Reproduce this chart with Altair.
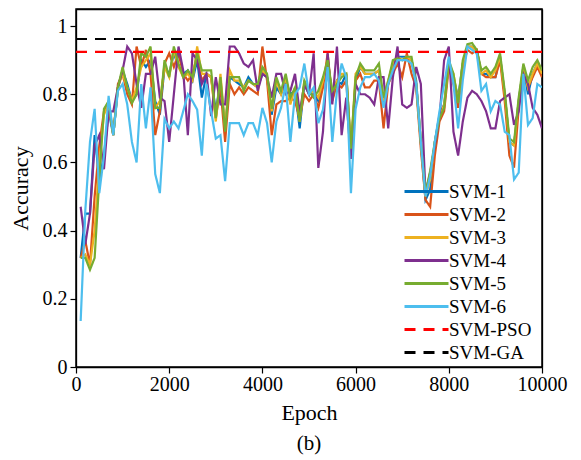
import altair as alt
import pandas as pd

epochs = list(range(100, 10001, 100))

svm1 = [0.32, 0.45, 0.45, 0.68, 0.55, 0.62, 0.75, 0.68, 0.82, 0.87,
        0.83, 0.78, 0.80, 0.90, 0.88, 0.90, 0.78, 0.74, 0.88, 0.86,
        0.92, 0.88, 0.86, 0.87, 0.84, 0.90, 0.79, 0.86, 0.85, 0.75,
        0.84, 0.70, 0.85, 0.84, 0.83, 0.82, 0.85, 0.83, 0.82, 0.86,
        0.85, 0.74, 0.82, 0.80, 0.84, 0.80, 0.81, 0.70, 0.83, 0.80,
        0.80, 0.78, 0.84, 0.89, 0.80, 0.84, 0.83, 0.86, 0.63, 0.84,
        0.88, 0.86, 0.86, 0.86, 0.87, 0.77, 0.83, 0.89, 0.91, 0.91,
        0.91, 0.90, 0.84, 0.66, 0.49, 0.52, 0.66, 0.74, 0.77, 0.89,
        0.85, 0.79, 0.89, 0.94, 0.94, 0.93, 0.86, 0.86, 0.85, 0.85,
        0.91, 0.80, 0.66, 0.65, 0.78, 0.88, 0.80, 0.86, 0.89, 0.86]

svm2 = [0.32, 0.37, 0.30, 0.50, 0.65, 0.75, 0.77, 0.68, 0.83, 0.86,
        0.80, 0.77, 0.94, 0.88, 0.93, 0.86, 0.68, 0.75, 0.89, 0.92,
        0.88, 0.92, 0.86, 0.84, 0.86, 0.91, 0.84, 0.86, 0.85, 0.73,
        0.82, 0.66, 0.83, 0.80, 0.82, 0.80, 0.82, 0.81, 0.80, 0.94,
        0.84, 0.68, 0.77, 0.78, 0.78, 0.79, 0.78, 0.73, 0.80, 0.78,
        0.80, 0.76, 0.82, 0.92, 0.78, 0.83, 0.82, 0.84, 0.62, 0.84,
        0.86, 0.82, 0.82, 0.84, 0.84, 0.70, 0.83, 0.86, 0.89, 0.85,
        0.92, 0.86, 0.82, 0.64, 0.49, 0.47, 0.62, 0.72, 0.75, 0.88,
        0.83, 0.76, 0.88, 0.93, 0.92, 0.93, 0.86, 0.85, 0.85, 0.85,
        0.90, 0.78, 0.62, 0.585, 0.76, 0.87, 0.82, 0.85, 0.88, 0.85]

svm3 = [0.32, 0.33, 0.30, 0.40, 0.60, 0.74, 0.77, 0.68, 0.82, 0.86,
        0.82, 0.78, 0.82, 0.88, 0.90, 0.92, 0.76, 0.78, 0.88, 0.85,
        0.93, 0.88, 0.85, 0.86, 0.84, 0.94, 0.86, 0.86, 0.85, 0.72,
        0.86, 0.70, 0.87, 0.84, 0.84, 0.82, 0.84, 0.83, 0.82, 0.87,
        0.85, 0.75, 0.84, 0.80, 0.85, 0.77, 0.82, 0.72, 0.84, 0.80,
        0.81, 0.79, 0.84, 0.90, 0.80, 0.84, 0.86, 0.86, 0.64, 0.86,
        0.88, 0.86, 0.86, 0.86, 0.87, 0.78, 0.84, 0.89, 0.91, 0.90,
        0.91, 0.90, 0.83, 0.66, 0.50, 0.55, 0.66, 0.73, 0.77, 0.89,
        0.86, 0.78, 0.89, 0.94, 0.94, 0.92, 0.86, 0.87, 0.85, 0.87,
        0.91, 0.80, 0.66, 0.65, 0.78, 0.88, 0.82, 0.86, 0.89, 0.86]

svm4 = [0.47, 0.36, 0.45, 0.65, 0.68, 0.58, 0.75, 0.75, 0.82, 0.87,
        0.94, 0.92, 0.83, 0.76, 0.86, 0.86, 0.91, 0.79, 0.78, 0.66,
        0.80, 0.94, 0.87, 0.68, 0.92, 0.90, 0.83, 0.86, 0.736, 0.85,
        0.77, 0.77, 0.94, 0.94, 0.92, 0.89, 0.88, 0.90, 0.81, 0.86,
        0.85, 0.79, 0.86, 0.86, 0.80, 0.81, 0.86, 0.745, 0.83, 0.80,
        0.92, 0.584, 0.69, 0.92, 0.77, 0.94, 0.68, 0.79, 0.61, 0.83,
        0.80, 0.80, 0.79, 0.77, 0.85, 0.85, 0.70, 0.85, 0.94, 0.77,
        0.76, 0.77, 0.88, 0.83, 0.51, 0.57, 0.65, 0.73, 0.90, 0.94,
        0.69, 0.62, 0.72, 0.79, 0.81, 0.80, 0.78, 0.75, 0.70, 0.70,
        0.78, 0.79, 0.80, 0.71, 0.75, 0.86, 0.83, 0.76, 0.74, 0.70]

svm5 = [0.32, 0.32, 0.285, 0.32, 0.55, 0.757, 0.78, 0.68, 0.82, 0.88,
        0.82, 0.774, 0.80, 0.92, 0.91, 0.94, 0.76, 0.76, 0.90, 0.85,
        0.94, 0.89, 0.85, 0.87, 0.85, 0.92, 0.87, 0.87, 0.87, 0.73,
        0.85, 0.69, 0.85, 0.85, 0.85, 0.81, 0.84, 0.83, 0.83, 0.88,
        0.86, 0.757, 0.85, 0.81, 0.86, 0.79, 0.82, 0.72, 0.84, 0.81,
        0.79, 0.81, 0.85, 0.90, 0.81, 0.83, 0.85, 0.86, 0.64, 0.85,
        0.89, 0.87, 0.87, 0.87, 0.89, 0.79, 0.84, 0.90, 0.905, 0.90,
        0.91, 0.91, 0.83, 0.66, 0.51, 0.575, 0.66, 0.73, 0.76, 0.90,
        0.86, 0.774, 0.90, 0.947, 0.95, 0.93, 0.87, 0.88, 0.86, 0.88,
        0.92, 0.81, 0.67, 0.66, 0.79, 0.89, 0.84, 0.88, 0.90, 0.87]

svm6 = [0.135, 0.46, 0.66, 0.757, 0.51, 0.62, 0.795, 0.68, 0.81, 0.83,
        0.77, 0.66, 0.60, 0.83, 0.70, 0.82, 0.566, 0.51, 0.727, 0.70,
        0.72, 0.70, 0.75, 0.80, 0.78, 0.755, 0.62, 0.83, 0.75, 0.67,
        0.68, 0.545, 0.715, 0.715, 0.715, 0.68, 0.715, 0.715, 0.68, 0.76,
        0.715, 0.60, 0.72, 0.76, 0.83, 0.66, 0.80, 0.82, 0.89, 0.80,
        0.82, 0.715, 0.755, 0.88, 0.66, 0.81, 0.89, 0.85, 0.51, 0.757,
        0.82, 0.85, 0.85, 0.86, 0.84, 0.76, 0.83, 0.87, 0.90, 0.90,
        0.90, 0.89, 0.83, 0.66, 0.50, 0.56, 0.66, 0.75, 0.83, 0.91,
        0.83, 0.70, 0.84, 0.94, 0.93, 0.92, 0.81, 0.83, 0.75, 0.78,
        0.77, 0.69, 0.68, 0.55, 0.57, 0.86, 0.71, 0.73, 0.83, 0.82]

pso_value = 0.924
ga_value = 0.962
ref_epochs = [0, 10000]

series_names = ["SVM-1", "SVM-2", "SVM-3", "SVM-4", "SVM-5", "SVM-6", "SVM-PSO", "SVM-GA"]
colors = ["#0072BD", "#D95319", "#EDB120", "#7E2F8E", "#77AC30", "#4DBEEE", "#FF0000", "#000000"]

rows = []
for name, vals in zip(series_names[:6], [svm1, svm2, svm3, svm4, svm5, svm6]):
    for e, v in zip(epochs, vals):
        rows.append({"Epoch": e, "Accuracy": v, "Series": name})
for name, val in [("SVM-PSO", pso_value), ("SVM-GA", ga_value)]:
    for e in ref_epochs:
        rows.append({"Epoch": e, "Accuracy": val, "Series": name})
df = pd.DataFrame(rows)

FONT = "Liberation Serif"
solid = [1, 0]
dash = [11, 8]

xticks = [0, 2000, 4000, 6000, 8000, 10000]
yticks = [0, 0.2, 0.4, 0.6, 0.8, 1.0]


def xs():
    return alt.Scale(domain=[0, 10000], nice=False, zero=False)


def ys():
    return alt.Scale(domain=[0, 1.05], nice=False)


common_axis = dict(grid=False, domain=True, domainColor="black", domainWidth=1.3,
                   tickSize=6, tickColor="black", tickWidth=1.2,
                   labelFont=FONT, labelFontSize=20, labelColor="black", labelFlush=False,
                   titleFont=FONT, titleFontSize=22, titleColor="black", titleFontWeight="normal")

legend_kw = dict(title=None, orient="none", legendX=339, legendY=171,
                 symbolType="M-2.2,0H2.2", symbolSize=400, symbolStrokeWidth=3,
                 labelFont=FONT, labelFontSize=19, labelColor="black",
                 rowPadding=1, labelOffset=11)

lines = alt.Chart(df).mark_line(clip=True).encode(
    x=alt.X("Epoch:Q", scale=xs(),
            axis=alt.Axis(orient="bottom", values=xticks, format="d",
                          labelPadding=1, title="Epoch", titlePadding=8, **common_axis)),
    y=alt.Y("Accuracy:Q", scale=ys(),
            axis=alt.Axis(orient="left", values=yticks, format="~g",
                          labelPadding=3, title="Accuracy", titlePadding=10, **common_axis)),
    color=alt.Color("Series:N", sort=series_names,
                    scale=alt.Scale(domain=series_names, range=colors),
                    legend=alt.Legend(**legend_kw)),
    strokeDash=alt.StrokeDash("Series:N", sort=series_names,
                              scale=alt.Scale(domain=series_names,
                                              range=[solid] * 6 + [dash] * 2),
                              legend=alt.Legend(**legend_kw)),
    strokeWidth=alt.value(2.2),
)

frame_axis = {k: v for k, v in common_axis.items() if k != "tickSize"}

frame = alt.Chart(df).mark_line(opacity=0).encode(
    x=alt.X("Epoch:Q", scale=xs(),
            axis=alt.Axis(orient="top", values=xticks, labels=False, ticks=False,
                          title=None, **frame_axis)),
    y=alt.Y("Accuracy:Q", scale=ys(),
            axis=alt.Axis(orient="right", values=yticks, labels=False, ticks=False,
                          title=None, **frame_axis)),
    detail="Series:N",
)

chart = alt.layer(lines, frame).resolve_scale(x="independent", y="independent").properties(
    width=466, height=358, padding=1, background="white",
    title=alt.TitleParams("(b)", orient="bottom", font=FONT, fontSize=21,
                          fontWeight="normal", color="black", offset=10),
).configure_view(stroke="black", strokeWidth=1.5)

chart.save("out.html", embed_options={"renderer": "svg", "actions": False})
